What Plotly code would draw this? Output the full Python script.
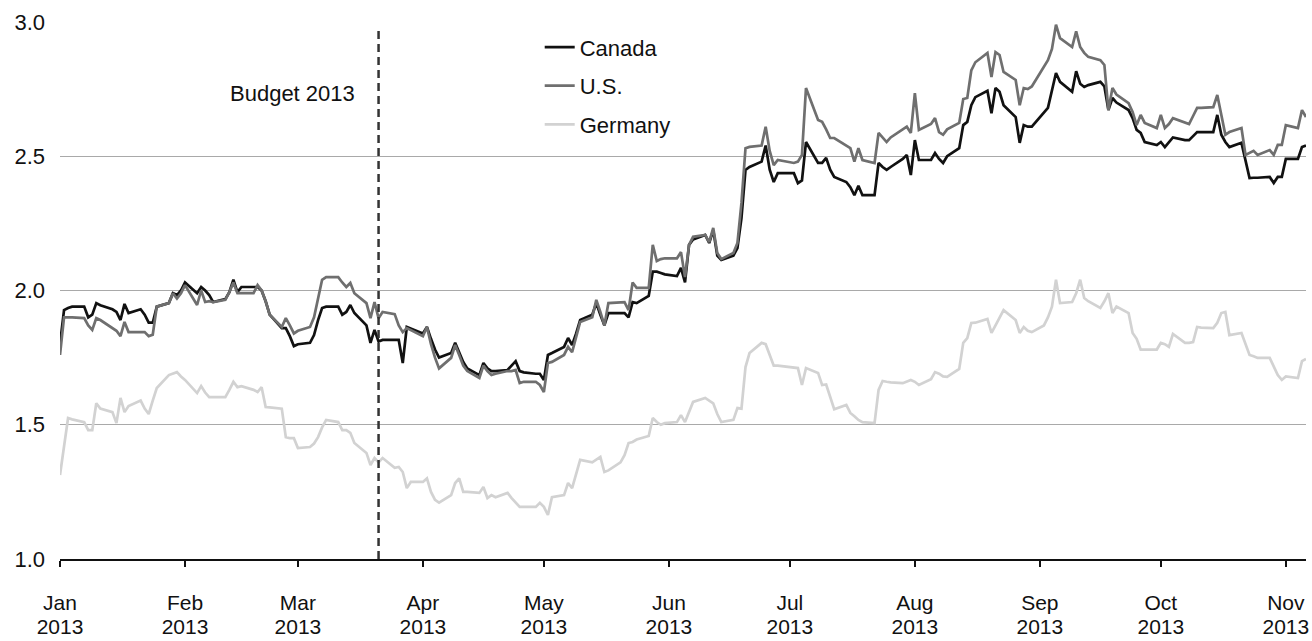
import plotly.graph_objects as go

# ── Design tokens ────────────────────────────────────────────────────────────
FONT_FAMILY = "Liberation Sans, Arial, Helvetica, sans-serif"
FONT_SIZE = 22
TICK_X_SIZE = 21
TEXT_COLOR = "#111111"
GRID = "#a9a9a9"
C_CANADA = "#111111"
C_US = "#6f6f6f"
C_GERMANY = "#d2d2d2"
W, H = 1312, 641

# ── Data ─────────────────────────────────────────────────────────────────────
ca_us_dates = [
    "2013-01-01", "2013-01-02", "2013-01-03", "2013-01-04", "2013-01-07", "2013-01-08",
    "2013-01-09", "2013-01-10", "2013-01-11", "2013-01-14", "2013-01-15", "2013-01-16",
    "2013-01-17", "2013-01-18", "2013-01-21", "2013-01-22", "2013-01-23", "2013-01-24",
    "2013-01-25", "2013-01-28", "2013-01-29", "2013-01-30", "2013-01-31", "2013-02-01",
    "2013-02-04", "2013-02-05", "2013-02-06", "2013-02-07", "2013-02-08", "2013-02-11",
    "2013-02-12", "2013-02-13", "2013-02-14", "2013-02-15", "2013-02-18", "2013-02-19",
    "2013-02-20", "2013-02-21", "2013-02-22", "2013-02-25", "2013-02-26", "2013-02-27",
    "2013-02-28", "2013-03-01", "2013-03-04", "2013-03-05", "2013-03-06", "2013-03-07",
    "2013-03-08", "2013-03-11", "2013-03-12", "2013-03-13", "2013-03-14", "2013-03-15",
    "2013-03-18", "2013-03-19", "2013-03-20", "2013-03-21", "2013-03-22", "2013-03-25",
    "2013-03-26", "2013-03-27", "2013-03-28", "2013-04-01", "2013-04-02", "2013-04-03",
    "2013-04-04", "2013-04-05", "2013-04-08", "2013-04-09", "2013-04-10", "2013-04-11",
    "2013-04-12", "2013-04-15", "2013-04-16", "2013-04-17", "2013-04-18", "2013-04-19",
    "2013-04-22", "2013-04-23", "2013-04-24", "2013-04-25", "2013-04-26", "2013-04-29",
    "2013-04-30", "2013-05-01", "2013-05-02", "2013-05-03", "2013-05-06", "2013-05-07",
    "2013-05-08", "2013-05-09", "2013-05-10", "2013-05-13", "2013-05-14", "2013-05-15",
    "2013-05-16", "2013-05-17", "2013-05-20", "2013-05-21", "2013-05-22", "2013-05-23",
    "2013-05-24", "2013-05-27", "2013-05-28", "2013-05-29", "2013-05-30", "2013-05-31",
    "2013-06-03", "2013-06-04", "2013-06-05", "2013-06-06", "2013-06-07", "2013-06-10",
    "2013-06-11", "2013-06-12", "2013-06-13", "2013-06-14", "2013-06-17", "2013-06-18",
    "2013-06-19", "2013-06-20", "2013-06-21", "2013-06-24", "2013-06-25", "2013-06-26",
    "2013-06-27", "2013-06-28", "2013-07-02", "2013-07-03", "2013-07-04", "2013-07-05",
    "2013-07-08", "2013-07-09", "2013-07-10", "2013-07-11", "2013-07-12", "2013-07-15",
    "2013-07-16", "2013-07-17", "2013-07-18", "2013-07-19", "2013-07-22", "2013-07-23",
    "2013-07-24", "2013-07-25", "2013-07-26", "2013-07-29", "2013-07-30", "2013-07-31",
    "2013-08-01", "2013-08-02", "2013-08-05", "2013-08-06", "2013-08-07", "2013-08-08",
    "2013-08-09", "2013-08-12", "2013-08-13", "2013-08-14", "2013-08-15", "2013-08-16",
    "2013-08-19", "2013-08-20", "2013-08-21", "2013-08-22", "2013-08-23", "2013-08-26",
    "2013-08-27", "2013-08-28", "2013-08-29", "2013-08-30", "2013-09-03", "2013-09-04",
    "2013-09-05", "2013-09-06", "2013-09-09", "2013-09-10", "2013-09-11", "2013-09-12",
    "2013-09-13", "2013-09-16", "2013-09-17", "2013-09-18", "2013-09-19", "2013-09-20",
    "2013-09-23", "2013-09-24", "2013-09-25", "2013-09-26", "2013-09-27", "2013-09-30",
    "2013-10-01", "2013-10-02", "2013-10-03", "2013-10-04", "2013-10-07", "2013-10-08",
    "2013-10-09", "2013-10-10", "2013-10-11", "2013-10-14", "2013-10-15", "2013-10-16",
    "2013-10-17", "2013-10-18", "2013-10-21", "2013-10-22", "2013-10-23", "2013-10-24",
    "2013-10-25", "2013-10-28", "2013-10-29", "2013-10-30", "2013-10-31", "2013-11-01",
    "2013-11-04", "2013-11-05", "2013-11-06",
]

canada = [
    1.80, 1.927, 1.935, 1.94, 1.94, 1.90,
    1.91, 1.953, 1.945, 1.93, 1.92, 1.89,
    1.95, 1.916, 1.93, 1.91, 1.88, 1.88,
    1.94, 1.953, 1.99, 1.983, 2.00, 2.03,
    1.99, 2.013, 2.00, 1.983, 1.957, 1.968,
    1.994, 2.04, 1.994, 2.013, 2.013, 2.013,
    2.00, 1.96, 1.91, 1.86, 1.86, 1.83,
    1.793, 1.80, 1.805, 1.834, 1.89, 1.935,
    1.94, 1.94, 1.91, 1.92, 1.946, 1.916,
    1.87, 1.805, 1.853, 1.81, 1.816, 1.816,
    1.816, 1.73, 1.864, 1.84, 1.864, 1.82,
    1.78, 1.75, 1.767, 1.805, 1.77, 1.734,
    1.71, 1.685, 1.73, 1.71, 1.70, 1.70,
    1.704, 1.72, 1.737, 1.70, 1.695, 1.69,
    1.69, 1.667, 1.76, 1.767, 1.79, 1.823,
    1.797, 1.84, 1.89, 1.91, 1.953, 1.91,
    1.87, 1.916, 1.916, 1.916, 1.90, 1.957,
    1.953, 1.98, 2.07, 2.07, 2.065, 2.06,
    2.054, 2.084, 2.03, 2.17, 2.19, 2.207,
    2.177, 2.225, 2.13, 2.114, 2.13, 2.158,
    2.27, 2.449, 2.46, 2.48, 2.54, 2.45,
    2.404, 2.437, 2.437, 2.40, 2.41, 2.553,
    2.475, 2.475, 2.494, 2.45, 2.423, 2.404,
    2.385, 2.355, 2.39, 2.355, 2.355, 2.475,
    2.46, 2.449, 2.46, 2.49, 2.505, 2.43,
    2.56, 2.486, 2.486, 2.512, 2.49, 2.475,
    2.50, 2.53, 2.616, 2.628, 2.69, 2.72,
    2.744, 2.66, 2.754, 2.74, 2.69, 2.646,
    2.55, 2.616, 2.61, 2.61, 2.68, 2.75,
    2.81, 2.777, 2.74, 2.817, 2.77, 2.758,
    2.765, 2.777, 2.76, 2.672, 2.717, 2.70,
    2.672, 2.642, 2.598, 2.587, 2.553, 2.542,
    2.553, 2.534, 2.55, 2.57, 2.56, 2.56,
    2.575, 2.59, 2.59, 2.59, 2.654, 2.58,
    2.553, 2.534, 2.55, 2.48, 2.419, 2.42,
    2.42, 2.423, 2.40, 2.423, 2.423, 2.49,
    2.49, 2.534, 2.54,
]

us = [
    1.76, 1.90, 1.90, 1.90, 1.897, 1.87,
    1.853, 1.897, 1.89, 1.86, 1.85, 1.83,
    1.883, 1.845, 1.845, 1.845, 1.83, 1.835,
    1.94, 1.953, 1.99, 1.97, 1.99, 2.02,
    1.946, 2.00, 1.957, 1.96, 1.957, 1.965,
    1.994, 2.03, 1.99, 1.99, 1.99, 2.02,
    2.00, 1.96, 1.91, 1.864, 1.897, 1.87,
    1.84, 1.85, 1.864, 1.90, 1.97, 2.04,
    2.05, 2.05, 2.03, 2.013, 2.028, 1.99,
    1.953, 1.897, 1.957, 1.897, 1.92, 1.912,
    1.87, 1.845, 1.86, 1.83, 1.864, 1.80,
    1.75, 1.71, 1.749, 1.797, 1.76, 1.72,
    1.70, 1.674, 1.72, 1.70, 1.685, 1.69,
    1.70, 1.70, 1.704, 1.655, 1.66, 1.66,
    1.648, 1.622, 1.73, 1.734, 1.76, 1.79,
    1.77, 1.83, 1.883, 1.90, 1.965, 1.92,
    1.87, 1.953, 1.955, 1.957, 1.927, 2.03,
    2.01, 2.01, 2.17, 2.11, 2.117, 2.12,
    2.12, 2.143, 2.05, 2.17, 2.20, 2.207,
    2.18, 2.233, 2.14, 2.117, 2.14, 2.177,
    2.326, 2.53, 2.535, 2.54, 2.61, 2.52,
    2.467, 2.486, 2.475, 2.48, 2.505, 2.754,
    2.635, 2.628, 2.60, 2.568, 2.568, 2.54,
    2.53, 2.48, 2.53, 2.486, 2.475, 2.587,
    2.57, 2.553, 2.57, 2.60, 2.61, 2.587,
    2.735, 2.598, 2.62, 2.642, 2.59, 2.58,
    2.60, 2.624, 2.713, 2.717, 2.82, 2.85,
    2.885, 2.795, 2.888, 2.877, 2.814, 2.784,
    2.69, 2.754, 2.75, 2.76, 2.858, 2.90,
    2.99, 2.94, 2.907, 2.965, 2.907, 2.885,
    2.87, 2.858, 2.84, 2.672, 2.754, 2.73,
    2.698, 2.665, 2.616, 2.654, 2.624, 2.605,
    2.654, 2.605, 2.62, 2.642, 2.624, 2.62,
    2.65, 2.68, 2.68, 2.683, 2.728, 2.654,
    2.58, 2.59, 2.605, 2.505, 2.512, 2.52,
    2.505, 2.523, 2.505, 2.542, 2.542, 2.616,
    2.605, 2.672, 2.646,
]

germany_dates = [
    "2013-01-01", "2013-01-03", "2013-01-04", "2013-01-07", "2013-01-08", "2013-01-09",
    "2013-01-10", "2013-01-11", "2013-01-14", "2013-01-15", "2013-01-16", "2013-01-17",
    "2013-01-18", "2013-01-21", "2013-01-22", "2013-01-23", "2013-01-24", "2013-01-25",
    "2013-01-28", "2013-01-29", "2013-01-30", "2013-01-31", "2013-02-01", "2013-02-04",
    "2013-02-05", "2013-02-06", "2013-02-07", "2013-02-08", "2013-02-11", "2013-02-12",
    "2013-02-13", "2013-02-14", "2013-02-15", "2013-02-18", "2013-02-19", "2013-02-20",
    "2013-02-21", "2013-02-22", "2013-02-25", "2013-02-26", "2013-02-27", "2013-02-28",
    "2013-03-01", "2013-03-04", "2013-03-05", "2013-03-06", "2013-03-07", "2013-03-08",
    "2013-03-11", "2013-03-12", "2013-03-13", "2013-03-14", "2013-03-15", "2013-03-18",
    "2013-03-19", "2013-03-20", "2013-03-21", "2013-03-22", "2013-03-25", "2013-03-26",
    "2013-03-27", "2013-03-28", "2013-03-29", "2013-04-01", "2013-04-02", "2013-04-03",
    "2013-04-04", "2013-04-05", "2013-04-08", "2013-04-09", "2013-04-10", "2013-04-11",
    "2013-04-12", "2013-04-15", "2013-04-16", "2013-04-17", "2013-04-18", "2013-04-19",
    "2013-04-22", "2013-04-23", "2013-04-24", "2013-04-25", "2013-04-26", "2013-04-29",
    "2013-04-30", "2013-05-01", "2013-05-02", "2013-05-03", "2013-05-06", "2013-05-07",
    "2013-05-08", "2013-05-09", "2013-05-10", "2013-05-13", "2013-05-14", "2013-05-15",
    "2013-05-16", "2013-05-17", "2013-05-20", "2013-05-21", "2013-05-22", "2013-05-23",
    "2013-05-24", "2013-05-27", "2013-05-28", "2013-05-29", "2013-05-30", "2013-05-31",
    "2013-06-03", "2013-06-04", "2013-06-05", "2013-06-06", "2013-06-07", "2013-06-10",
    "2013-06-11", "2013-06-12", "2013-06-13", "2013-06-14", "2013-06-17", "2013-06-18",
    "2013-06-19", "2013-06-20", "2013-06-21", "2013-06-24", "2013-06-25", "2013-06-26",
    "2013-06-27", "2013-06-28", "2013-07-01", "2013-07-02", "2013-07-03", "2013-07-04",
    "2013-07-05", "2013-07-08", "2013-07-09", "2013-07-10", "2013-07-11", "2013-07-12",
    "2013-07-15", "2013-07-16", "2013-07-17", "2013-07-18", "2013-07-19", "2013-07-22",
    "2013-07-23", "2013-07-24", "2013-07-25", "2013-07-26", "2013-07-29", "2013-07-30",
    "2013-07-31", "2013-08-01", "2013-08-02", "2013-08-05", "2013-08-06", "2013-08-07",
    "2013-08-08", "2013-08-09", "2013-08-12", "2013-08-13", "2013-08-14", "2013-08-15",
    "2013-08-16", "2013-08-19", "2013-08-20", "2013-08-21", "2013-08-22", "2013-08-23",
    "2013-08-26", "2013-08-27", "2013-08-28", "2013-08-29", "2013-08-30", "2013-09-02",
    "2013-09-03", "2013-09-04", "2013-09-05", "2013-09-06", "2013-09-09", "2013-09-10",
    "2013-09-11", "2013-09-12", "2013-09-13", "2013-09-16", "2013-09-17", "2013-09-18",
    "2013-09-19", "2013-09-20", "2013-09-23", "2013-09-24", "2013-09-25", "2013-09-26",
    "2013-09-27", "2013-09-30", "2013-10-01", "2013-10-02", "2013-10-03", "2013-10-04",
    "2013-10-07", "2013-10-08", "2013-10-09", "2013-10-10", "2013-10-11", "2013-10-14",
    "2013-10-15", "2013-10-16", "2013-10-17", "2013-10-18", "2013-10-21", "2013-10-22",
    "2013-10-23", "2013-10-24", "2013-10-25", "2013-10-28", "2013-10-29", "2013-10-30",
    "2013-10-31", "2013-11-01", "2013-11-04", "2013-11-05", "2013-11-06",
]

germany = [
    1.313, 1.525, 1.52, 1.51, 1.48, 1.48,
    1.58, 1.56, 1.547, 1.506, 1.60, 1.547,
    1.57, 1.59, 1.56, 1.54, 1.59, 1.637,
    1.685, 1.69, 1.696, 1.68, 1.667, 1.618,
    1.644, 1.62, 1.603, 1.603, 1.603, 1.63,
    1.66, 1.64, 1.644, 1.63, 1.622, 1.64,
    1.566, 1.565, 1.56, 1.454, 1.45, 1.45,
    1.413, 1.417, 1.43, 1.454, 1.49, 1.518,
    1.51, 1.48, 1.48, 1.47, 1.432, 1.395,
    1.35, 1.376, 1.36, 1.376, 1.34, 1.343,
    1.324, 1.264, 1.287, 1.287, 1.30, 1.25,
    1.22, 1.21, 1.238, 1.283, 1.30, 1.25,
    1.25, 1.246, 1.268, 1.227, 1.238, 1.23,
    1.246, 1.227, 1.21, 1.194, 1.194, 1.194,
    1.209, 1.194, 1.164, 1.23, 1.238, 1.283,
    1.264, 1.32, 1.369, 1.36, 1.37, 1.38,
    1.324, 1.33, 1.36, 1.387, 1.432, 1.436,
    1.445, 1.458, 1.525, 1.51, 1.50, 1.506,
    1.51, 1.536, 1.51, 1.55, 1.585, 1.60,
    1.59, 1.58, 1.54, 1.51, 1.518, 1.562,
    1.56, 1.715, 1.767, 1.805, 1.80, 1.76,
    1.72, 1.72, 1.715, 1.711, 1.711, 1.648,
    1.711, 1.693, 1.648, 1.65, 1.60, 1.558,
    1.574, 1.544, 1.532, 1.518, 1.51, 1.506,
    1.63, 1.663, 1.66, 1.658, 1.655, 1.66,
    1.667, 1.66, 1.648, 1.67, 1.696, 1.69,
    1.68, 1.678, 1.708, 1.805, 1.823, 1.879,
    1.88, 1.894, 1.842, 1.87, 1.90, 1.927,
    1.89, 1.842, 1.864, 1.85, 1.845, 1.87,
    1.90, 1.94, 2.04, 1.953, 1.957, 1.99,
    2.04, 1.972, 1.96, 1.935, 1.96, 1.99,
    1.916, 1.94, 1.916, 1.842, 1.82, 1.78,
    1.78, 1.78, 1.805, 1.80, 1.79, 1.838,
    1.805, 1.805, 1.808, 1.864, 1.862, 1.86,
    1.88, 1.916, 1.92, 1.834, 1.842, 1.80,
    1.76, 1.755, 1.749, 1.749, 1.72, 1.685,
    1.667, 1.68, 1.674, 1.737, 1.745,
]

month_ticks = [
    "2013-01-01", "2013-02-01", "2013-03-01", "2013-04-01", "2013-05-01", "2013-06-01",
    "2013-07-01", "2013-08-01", "2013-09-01", "2013-10-01", "2013-11-01",
]
month_labels = ["Jan", "Feb", "Mar", "Apr", "May", "Jun", "Jul", "Aug", "Sep", "Oct", "Nov"]
year_labels = ["2013"] * len(month_ticks)
y_ticks = [1.0, 1.5, 2.0, 2.5, 3.0]

X_RANGE = ["2013-01-01", "2013-11-06"]
BUDGET_DATE = "2013-03-21"

# ── Figure ───────────────────────────────────────────────────────────────────
fig = go.Figure()

# Germany sits on the overlaid x2 axis (same range) so the year row gets drawn
series = [
    ("Canada", ca_us_dates, canada, C_CANADA, "x"),
    ("U.S.", ca_us_dates, us, C_US, "x"),
    ("Germany", germany_dates, germany, C_GERMANY, "x2"),
]
for name, xs, ys, color, xax in series:
    fig.add_trace(go.Scatter(
        x=xs, y=ys, name=name, mode="lines",
        xaxis=xax, yaxis="y",
        line=dict(color=color, width=2.7),
        legendgroup=name,
        hoverinfo="skip",
    ))

# budget marker
fig.add_shape(
    type="line", xref="x", yref="y",
    x0=BUDGET_DATE, x1=BUDGET_DATE, y0=1.0, y1=2.98,
    line=dict(color="#333333", width=2.5, dash="8px,5px"),
)
fig.add_annotation(
    x=BUDGET_DATE, y=2.735, xref="x", yref="y",
    text="Budget 2013", showarrow=False,
    xanchor="right", yanchor="middle", xshift=-22,
    font=dict(size=FONT_SIZE, color=TEXT_COLOR, family=FONT_FAMILY),
)

fig.update_layout(
    width=W, height=H,
    paper_bgcolor="white", plot_bgcolor="white",
    font=dict(family=FONT_FAMILY, size=FONT_SIZE, color=TEXT_COLOR),
    margin=dict(l=60, r=6, t=22, b=82, autoexpand=False),
    showlegend=True,
    legend=dict(
        x=0.385, xanchor="left", y=0.992, yanchor="top",
        bgcolor="rgba(0,0,0,0)", borderwidth=0,
        tracegroupgap=7,
        font=dict(size=FONT_SIZE, color=TEXT_COLOR),
    ),
    xaxis=dict(
        type="date", range=X_RANGE,
        tickmode="array", tickvals=month_ticks, ticktext=month_labels,
        ticks="outside", ticklen=6, tickwidth=2, tickcolor="#111111",
        showline=True, linecolor="#111111", linewidth=2,
        showgrid=False, zeroline=False,
        ticklabelstandoff=18,
        tickfont=dict(size=TICK_X_SIZE, color=TEXT_COLOR),
    ),
    xaxis2=dict(
        type="date", range=X_RANGE, overlaying="x", anchor="y", side="bottom",
        tickmode="array", tickvals=month_ticks, ticktext=year_labels,
        ticks="", showline=False, showgrid=False, zeroline=False,
        ticklabelstandoff=53,
        tickfont=dict(size=TICK_X_SIZE, color=TEXT_COLOR),
    ),
    yaxis=dict(
        range=[1.0, 3.0], tickmode="array", tickvals=y_ticks,
        tickformat=".1f",
        showgrid=True, gridcolor=GRID, gridwidth=1.3,
        showline=False, zeroline=False, ticks="",
        ticklabelstandoff=14,
        tickfont=dict(size=FONT_SIZE, color=TEXT_COLOR),
    ),
)

# drop the default page margin so the figure fills the window exactly
fig.write_html(
    "out.html",
    config={"displayModeBar": False},
    post_script="document.body.style.margin='0';document.body.style.overflow='hidden';",
)
